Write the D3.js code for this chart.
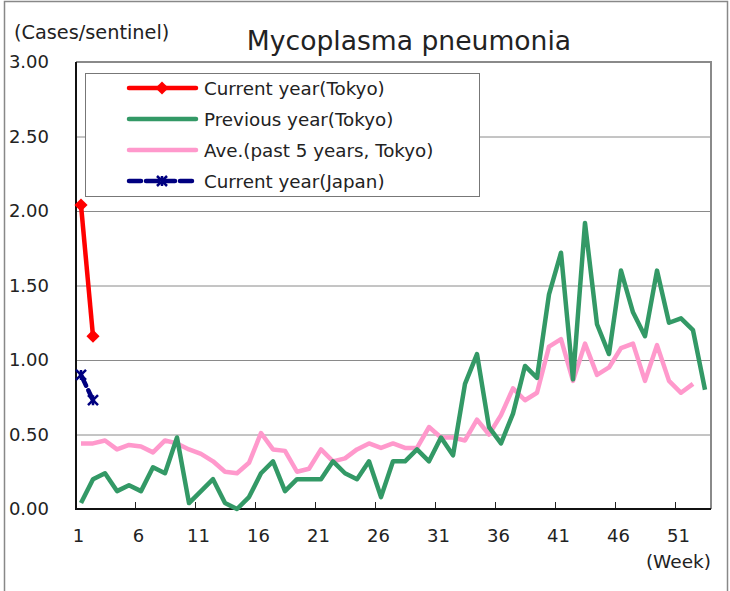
<!DOCTYPE html>
<html>
<head>
<meta charset="utf-8">
<script src="https://cdn.jsdelivr.net/npm/d3@7"></script>
<style>
  body { margin: 0; background: #fff; }
  svg text { font-family: "DejaVu Sans", sans-serif; fill: #222; }
</style>
</head>
<body>
<svg id="chart" width="730" height="591"></svg>
<script>
// week numbers
const weeks = d3.range(1, 54);
const weekLabels = [1, 6, 11, 16, 21, 26, 31, 36, 41, 46, 51];
const yTicks = [0, 0.5, 1, 1.5, 2, 2.5, 3];

// series (cases per sentinel)
const currentTokyo = [2.04, 1.16];
const currentJapan = [0.90, 0.73];
const previousTokyo = [0.04, 0.20, 0.24, 0.12, 0.16, 0.12, 0.28, 0.24, 0.48, 0.04,
                       0.12, 0.20, 0.04, 0.00, 0.08, 0.24, 0.32, 0.12, 0.20, 0.20,
                       0.20, 0.32, 0.24, 0.20, 0.32, 0.08, 0.32, 0.32, 0.40, 0.32,
                       0.48, 0.36, 0.84, 1.04, 0.55, 0.44, 0.64, 0.96, 0.88, 1.44,
                       1.72, 0.87, 1.92, 1.24, 1.04, 1.60, 1.32, 1.16, 1.60, 1.25,
                       1.28, 1.20, 0.80];
const avgPast5 = [0.44, 0.44, 0.46, 0.40, 0.43, 0.42, 0.38, 0.46, 0.44, 0.40,
                  0.37, 0.32, 0.25, 0.24, 0.31, 0.51, 0.40, 0.39, 0.25, 0.27,
                  0.40, 0.32, 0.34, 0.40, 0.44, 0.41, 0.44, 0.41, 0.41, 0.55,
                  0.48, 0.48, 0.46, 0.60, 0.50, 0.63, 0.81, 0.73, 0.78, 1.09,
                  1.14, 0.86, 1.11, 0.90, 0.95, 1.08, 1.11, 0.86, 1.10, 0.86,
                  0.78, 0.84];

const legendItems = [
  {name: "Current year(Tokyo)", color: "#ff0000", dash: null, marker: "diamond"},
  {name: "Previous year(Tokyo)", color: "#339966", dash: null, marker: null},
  {name: "Ave.(past 5 years, Tokyo)", color: "#ff99cc", dash: null, marker: null},
  {name: "Current year(Japan)", color: "#000080", dash: "12,5", marker: "star"}
];

const svg = d3.select("#chart");
const pLeft = 76, pRight = 711, pTop = 62, pBottom = 509;

const x = d3.scaleLinear().domain([0.5, 53.5]).range([pLeft - 1, pRight]);
const y = d3.scaleLinear().domain([0, 3]).range([pBottom, pTop]);

// outer frame
svg.append("rect")
   .attr("x", 4.5).attr("y", 1.5)
   .attr("width", 723).attr("height", 620)
   .attr("fill", "none").attr("stroke", "#888").attr("stroke-width", 1.5);

// gridlines
const grid = svg.append("g")
   .attr("transform", `translate(${pLeft},0)`)
   .call(d3.axisLeft(y).tickValues(yTicks.slice(1, -1)).tickSize(-(pRight - pLeft)).tickFormat(""));
grid.select(".domain").remove();
grid.selectAll("line").attr("stroke", "#8a8a8a").attr("stroke-width", 1);

// top and right border of plot
svg.append("path")
   .attr("d", `M${pLeft},${pTop}H${pRight}V${pBottom}`)
   .attr("fill", "none").attr("stroke", "#8a8a8a").attr("stroke-width", 2);

// y labels
const yAxis = svg.append("g")
   .attr("transform", `translate(${pLeft},0)`)
   .call(d3.axisLeft(y).tickValues(yTicks).tickFormat(d3.format(".2f")).tickSize(0).tickPadding(27));
yAxis.select(".domain").remove();
yAxis.selectAll("text").attr("font-size", 18).attr("fill", "#222");

// x ticks between categories
const xTickAxis = svg.append("g")
   .attr("transform", `translate(0,${pBottom})`)
   .call(d3.axisBottom(x).tickValues(d3.range(5.5, 53, 5)).tickSize(-7).tickFormat(""));
xTickAxis.select(".domain").remove();
xTickAxis.selectAll("line").attr("stroke", "#222");

// x labels
const xLabAxis = svg.append("g")
   .attr("transform", `translate(-3,${pBottom})`)
   .call(d3.axisBottom(x).tickValues(weekLabels).tickSize(0).tickPadding(20).tickFormat(d3.format("d")));
xLabAxis.select(".domain").remove();
xLabAxis.selectAll("text").attr("font-size", 18).attr("fill", "#222");

// axes lines
svg.append("path")
   .attr("d", `M${pLeft},${pTop}V${pBottom}H${pRight}`)
   .attr("fill", "none").attr("stroke", "#111").attr("stroke-width", 2);

const line = d3.line().x((d, i) => x(i + 1)).y(d => y(d));

svg.append("path").datum(avgPast5)
   .attr("d", line).attr("fill", "none")
   .attr("stroke", "#ff99cc").attr("stroke-width", 4.5).attr("stroke-linejoin", "round");

svg.append("path").datum(previousTokyo)
   .attr("d", line).attr("fill", "none")
   .attr("stroke", "#339966").attr("stroke-width", 4.5).attr("stroke-linejoin", "round");

svg.append("path").datum(currentTokyo)
   .attr("d", line).attr("fill", "none")
   .attr("stroke", "#ff0000").attr("stroke-width", 4.5);

const diamond = d3.symbol().type(d3.symbolDiamond2).size(110);
svg.selectAll(".redPt").data(currentTokyo).enter().append("path")
   .attr("transform", (d, i) => `translate(${x(i + 1)},${y(d)})`)
   .attr("d", diamond).attr("fill", "#ff0000");

svg.append("path").datum(currentJapan)
   .attr("d", line).attr("fill", "none")
   .attr("stroke", "#000080").attr("stroke-width", 4.5)
   .attr("stroke-dasharray", "12,5").attr("stroke-linecap", "round");

function star(g, cx, cy, r) {
  g.append("path")
   .attr("d", `M${cx - r},${cy - r}L${cx + r},${cy + r}M${cx - r},${cy + r}L${cx + r},${cy - r}M${cx},${cy - r}V${cy + r}`)
   .attr("stroke", "#000080").attr("stroke-width", 2.5).attr("fill", "none");
}
currentJapan.forEach((d, i) => star(svg, x(i + 1), y(d), 5));

// legend
const lg = svg.append("g");
lg.append("rect")
  .attr("x", 85.5).attr("y", 73.5).attr("width", 394).attr("height", 123)
  .attr("fill", "#fff").attr("stroke", "#777").attr("stroke-width", 1);
legendItems.forEach((it, i) => {
  const ly = 88 + i * 31;
  lg.append("line")
    .attr("x1", 129).attr("x2", 196).attr("y1", ly).attr("y2", ly)
    .attr("stroke", it.color).attr("stroke-width", 4.5)
    .attr("stroke-linecap", "round")
    .attr("stroke-dasharray", it.dash);
  if (it.marker === "diamond") {
    lg.append("path").attr("transform", `translate(162,${ly})`)
      .attr("d", diamond).attr("fill", it.color);
  } else if (it.marker === "star") {
    star(lg, 162, ly, 5);
  }
  lg.append("text")
    .attr("x", 204).attr("y", ly + 6.5)
    .attr("font-size", 18.3)
    .text(it.name);
});

// titles
svg.append("text")
   .attr("x", 409).attr("y", 50)
   .attr("text-anchor", "middle").attr("font-size", 26.6)
   .text("Mycoplasma pneumonia");
svg.append("text")
   .attr("x", 14).attr("y", 39)
   .attr("font-size", 19.3)
   .text("(Cases/sentinel)");
svg.append("text")
   .attr("x", 711).attr("y", 568)
   .attr("text-anchor", "end").attr("font-size", 18.5)
   .text("(Week)");
</script>
</body>
</html>
